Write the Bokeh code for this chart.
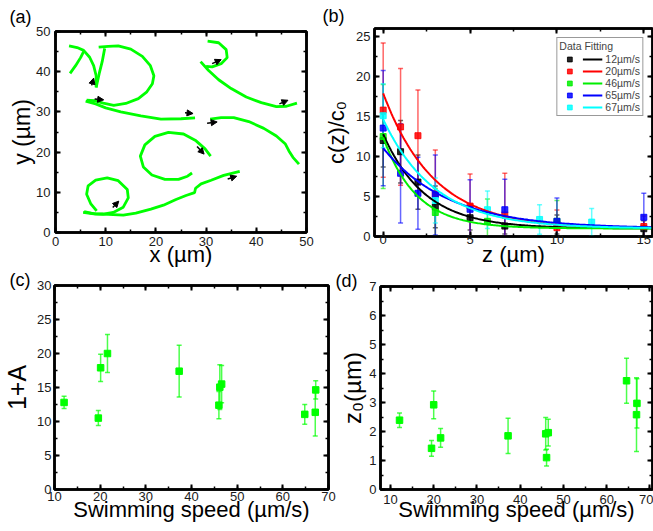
import numpy as np
from bokeh.plotting import figure
from bokeh.models import (ColumnDataSource, Whisker, TeeHead, Arrow, NormalHead,
                          Legend, LegendItem, LinearAxis, Range1d, SingleIntervalTicker)
from bokeh.core.properties import value
from bokeh.layouts import column, row
from bokeh.embed import file_html
from bokeh.resources import INLINE

FONT = "Liberation Sans"
GREEN = "#00ff00"

# ---------------- (a) trajectories (µm) ----------------
traj_x = [
    [2.9, 4.0, 5.0, 5.6],
    [2.7, 4.3, 5.6, 6.8, 7.6, 8.1, 8.1],
    [8.1, 8.7, 9.3, 9.8],
    [8.6, 10.5, 12.5, 15.0, 17.3, 18.9, 19.6, 19.3, 18.2, 16.5, 14.0, 11.6, 9.5, 7.8, 6.2],
    [6.0, 8.0, 10.0, 13.0, 17.0, 21.0, 25.0, 27.8],
    [30.3, 32.5, 34.0, 34.2, 33.0, 31.2, 30.0],
    [28.9, 30.5, 32.5, 35.0, 38.0, 41.0, 44.0, 46.0, 48.1],
    [30.8, 33.0, 35.5, 38.5, 41.5, 44.0, 45.8, 46.5, 47.3, 48.5],
    [30.9, 29.8, 28.0, 25.5, 22.5, 19.8, 17.8, 16.9, 17.5, 19.2, 21.8, 24.5, 26.3, 27.2],
    [5.5, 8.0, 10.5, 13.5, 16.0, 19.0, 21.5, 24.0, 26.0, 27.7, 27.9, 29.0, 31.0, 33.5, 36.7],
    [8.2, 7.0, 6.2, 6.5, 8.0, 10.3, 12.5, 14.3, 14.5, 13.5, 11.5, 9.5, 7.5, 5.7],
]
traj_y = [
    [39.6, 41.5, 43.5, 45.0],
    [46.4, 46.0, 45.3, 43.6, 41.5, 39.0, 36.1],
    [36.1, 39.5, 42.5, 45.8],
    [46.1, 46.3, 46.4, 45.6, 43.8, 41.5, 39.0, 37.0, 35.0, 33.3, 32.1, 31.6, 32.2, 32.8, 32.9],
    [32.7, 32.0, 31.0, 30.0, 29.0, 28.2, 28.3, 28.5],
    [47.6, 47.2, 45.5, 43.5, 42.0, 41.2, 41.3],
    [42.5, 40.3, 38.0, 35.8, 33.7, 32.3, 31.3, 31.4, 32.2],
    [28.2, 28.6, 28.6, 27.6, 25.9, 24.0, 22.0, 20.3, 18.7, 17.0],
    [19.0, 20.8, 22.8, 24.5, 24.9, 23.9, 21.8, 19.0, 16.3, 14.3, 13.2, 13.2, 14.0, 14.8],
    [5.0, 4.6, 4.5, 4.3, 4.8, 5.8, 6.8, 8.2, 9.2, 9.9, 11.0, 12.1, 13.0, 14.2, 15.2],
    [5.4, 7.2, 9.5, 11.6, 13.0, 13.6, 12.9, 10.7, 8.6, 6.3, 5.0, 4.6, 4.7, 5.2],
]
arrow_x0 = [7.2, 7.8, 25.8, 31.2, 44.6, 30.2, 28.2, 34.3, 11.4]
arrow_y0 = [36.6, 33.2, 29.8, 42.0, 32.0, 27.2, 21.4, 13.3, 6.2]
arrow_x1 = [7.6, 9.6, 27.4, 33.0, 46.3, 32.2, 29.6, 36.1, 12.6]
arrow_y1 = [38.4, 33.0, 29.6, 43.0, 32.9, 27.5, 19.5, 14.0, 7.8]

# ---------------- (b) concentration profiles ----------------
z_12 = [0, 1, 2, 3, 5, 7, 10, 15]
c_12 = [12.0, 10.6, 6.8, 3.7, 2.35, 1.3, 1.5, 0.97]
e_12 = [3.3, 3.9, 3.4, 2.6, 1.55, 1.0, 1.2, 1.0]
z_20 = [0, 1, 2, 3, 5, 7, 10, 15]
c_20 = [15.8, 13.7, 12.6, 5.3, 3.8, 2.7, 1.1, 1.25]
e_20 = [8.4, 7.3, 5.7, 5.5, 4.0, 5.2, 2.2, 1.3]
z_46 = [0, 3, 6, 10]
c_46 = [12.5, 3.0, 1.9, 1.9]
e_46 = [6.5, 3.0, 2.8, 2.6]
z_65 = [0, 1, 2, 3, 5, 7, 10, 15]
c_65 = [13.55, 7.9, 5.4, 5.2, 3.4, 3.35, 1.9, 2.4]
e_65 = [7.2, 6.2, 4.5, 5.0, 3.7, 3.8, 2.9, 3.0]
z_67 = [0, 3, 6, 9, 12]
c_67 = [15.1, 4.5, 3.35, 2.13, 1.8]
e_67 = [4.0, 2.8, 2.35, 1.85, 1.7]

fit_labels = ["12µm/s", "20µm/s", "46µm/s", "65µm/s", "67µm/s"]
fit_colors = ["#000000", "#ff0000", "#00ee00", "#0000ff", "#00ffff"]
fit_one_plus_A = [12.8, 17.9, 12.4, 11.05, 14.65]
fit_z0 = [2.39, 2.92, 1.92, 3.75, 2.97]

# ---------------- (c), (d) fit parameters vs speed ----------------
speed = [12.1, 19.6, 20.1, 21.6, 37.3, 46.0, 46.2, 46.6, 64.8, 67.1, 67.2]
one_plus_A = [12.8, 10.5, 17.9, 20.0, 17.4, 12.4, 15.05, 15.5, 11.05, 11.35, 14.65]
one_plus_A_err = [0.9, 1.1, 2.0, 2.8, 3.8, 2.0, 3.3, 2.75, 1.45, 3.5, 1.35]
z0_speed = [12.1, 19.5, 20.0, 21.6, 37.2, 45.9, 46.1, 46.5, 64.6, 66.9, 67.0]
z0_vals = [2.39, 1.42, 2.92, 1.78, 1.85, 1.92, 1.10, 1.96, 3.75, 2.58, 2.97]
z0_err = [0.25, 0.27, 0.48, 0.32, 0.61, 0.56, 0.29, 0.46, 0.78, 1.27, 0.85]


def base_fig(w, h, lb, rb, tb, bb, xr, yr, xint, yint, tag, toff, tstand):
    p = figure(width=w, height=h, x_range=Range1d(*xr), y_range=Range1d(*yr),
               output_backend="svg", toolbar_location=None, title=tag,
               min_border_left=lb, min_border_right=rb, min_border_top=tb, min_border_bottom=bb)
    p.frame_align = False
    p.title.align = "left"
    p.title.offset = toff
    p.title.standoff = tstand
    p.title.text_font = FONT
    p.title.text_font_size = "18px"
    p.title.text_font_style = "normal"
    p.title.text_color = "black"
    p.grid.visible = False
    p.outline_line_color = "black"
    p.outline_line_width = 2.5
    p.add_layout(LinearAxis(), "above")
    p.add_layout(LinearAxis(), "right")
    for ax in p.xaxis:
        ax.ticker = SingleIntervalTicker(interval=xint, num_minor_ticks=2)
    for ax in p.yaxis:
        ax.ticker = SingleIntervalTicker(interval=yint, num_minor_ticks=2)
    for ax in p.axis:
        ax.major_tick_in = 5
        ax.major_tick_out = 0
        ax.minor_tick_in = 3
        ax.minor_tick_out = 0
        ax.major_tick_line_width = 2
        ax.minor_tick_line_width = 1.5
        ax.axis_line_width = 2.5
        ax.major_label_text_font = FONT
        ax.major_label_text_font_size = "13px"
        ax.major_label_text_color = "#1a1a1a"
        ax.axis_label_text_font = FONT
        ax.axis_label_text_font_style = "normal"
        ax.axis_label_text_color = "black"
    for ax in list(p.above) + list(p.right):
        if isinstance(ax, LinearAxis):
            ax.major_label_text_font_size = "0px"
            ax.major_label_text_color = None
            ax.major_label_standoff = 0
    return p


def set_labels(p, xl, yl, xs, ys, xm, xsd, ym, ysd):
    bx, ly = p.below[0], p.left[0]
    bx.axis_label = xl
    bx.axis_label_text_font_size = xs
    bx.major_label_standoff = xm
    bx.axis_label_standoff = xsd
    ly.axis_label = yl
    ly.axis_label_text_font_size = ys
    ly.major_label_standoff = ym
    ly.axis_label_standoff = ysd


def green_whisker(src):
    return Whisker(source=src, base="s", upper="up", lower="lo",
                   line_color=GREEN, line_alpha=0.7, line_width=1.5,
                   upper_head=TeeHead(size=5, line_color=GREEN, line_alpha=0.7, line_width=1.5),
                   lower_head=TeeHead(size=5, line_color=GREEN, line_alpha=0.7, line_width=1.5))


# ---- panel (a)
pa = base_fig(320, 270, 55, 14, 31, 38, (0, 50), (0, 50), 10, 10, "(a)", -46, 9)
set_labels(pa, "x (µm)", "y (µm)", "22px", "23px", 4, -7, 5, -2)
pa.multi_line(xs=traj_x, ys=traj_y, line_color=GREEN, line_width=2.8)
arr_src = ColumnDataSource(dict(x0=arrow_x0, y0=arrow_y0, x1=arrow_x1, y1=arrow_y1))
pa.add_layout(Arrow(source=arr_src, x_start="x0", y_start="y0", x_end="x1", y_end="y1",
                    line_color="black", line_width=1.5,
                    end=NormalHead(size=6, fill_color="black", line_color="black")))

# ---- panel (b)
pb = base_fig(333, 270, 54, 1, 28, 34, (-0.5, 15.5), (0, 26), 5, 5, "(b)", -52, 6)
set_labels(pb, "z (µm)", "c(z)/c₀", "22px", "22px", -2, -5, 4, 4)
series = [(z_12, c_12, e_12), (z_20, c_20, e_20), (z_46, c_46, e_46),
          (z_65, c_65, e_65), (z_67, c_67, e_67)]
sq_renderers = []
for (zz, cc, ee), col in zip(series, fit_colors):
    cc_a, ee_a = np.array(cc), np.array(ee)
    src = ColumnDataSource(dict(z=zz, c=cc, up=cc_a + ee_a, lo=cc_a - ee_a))
    pb.add_layout(Whisker(source=src, base="z", upper="up", lower="lo",
                          line_color=col, line_alpha=0.6, line_width=1.5,
                          upper_head=TeeHead(size=5, line_color=col, line_alpha=0.6, line_width=1.5),
                          lower_head=TeeHead(size=5, line_color=col, line_alpha=0.6, line_width=1.5)))
    r = pb.scatter("z", "c", source=src, marker="square", size=6, fill_color=col,
                   line_color=col, fill_alpha=0.85, line_alpha=0.85)
    sq_renderers.append(r)
z_fit = np.linspace(0, 15.5, 200)
ln_renderers = []
for amp, zz0, col in zip(fit_one_plus_A, fit_z0, fit_colors):
    r = pb.line(z_fit, 1 + (amp - 1) * np.exp(-z_fit / zz0), line_color=col, line_width=2)
    ln_renderers.append(r)
items = [LegendItem(label=value(" "), renderers=[r]) for r in sq_renderers] + \
        [LegendItem(label=value(lab), renderers=[r]) for lab, r in zip(fit_labels, ln_renderers)]
leg = Legend(items=items, ncols=2, location="top_right", margin=9, padding=2, spacing=0,
             glyph_width=20, glyph_height=12, label_width=0, label_height=12, label_standoff=3,
             title="Data Fitting", title_standoff=1,
             title_text_font=FONT, title_text_font_size="10.5px", title_text_font_style="normal",
             label_text_font=FONT, label_text_font_size="10.5px",
             border_line_color="#333333", border_line_width=1, background_fill_alpha=1)
pb.add_layout(leg)

# ---- panel (c)
pc = base_fig(336, 261, 54, 8, 15, 42, (10, 70), (0, 30), 10, 5, "(c)", -45, -8)
set_labels(pc, "Swimming speed (µm/s)", "1+A", "22px", "25px", 2, -7, 3, 3)
a_arr, ae_arr = np.array(one_plus_A), np.array(one_plus_A_err)
src_c = ColumnDataSource(dict(s=speed, v=one_plus_A, up=a_arr + ae_arr, lo=a_arr - ae_arr))
pc.add_layout(green_whisker(src_c))
pc.scatter("s", "v", source=src_c, marker="square", size=6.5, fill_color=GREEN, line_color=GREEN)

# ---- panel (d)
pd_ = base_fig(317, 261, 41, 1, 16, 42, (7.7, 70.6), (0, 7), 10, 1, "(d)", -45, -8)
set_labels(pd_, "Swimming speed (µm/s)", "z₀(µm)", "22px", "24px", 5, -10, 4, 0)
z_arr, ze_arr = np.array(z0_vals), np.array(z0_err)
src_d = ColumnDataSource(dict(s=z0_speed, v=z0_vals, up=z_arr + ze_arr, lo=z_arr - ze_arr))
pd_.add_layout(green_whisker(src_d))
pd_.scatter("s", "v", source=src_d, marker="square", size=6.5, fill_color=GREEN, line_color=GREEN)

layout = column(row(pa, pb), row(pc, pd_))
open("out.html", "w").write(file_html(layout, INLINE))
